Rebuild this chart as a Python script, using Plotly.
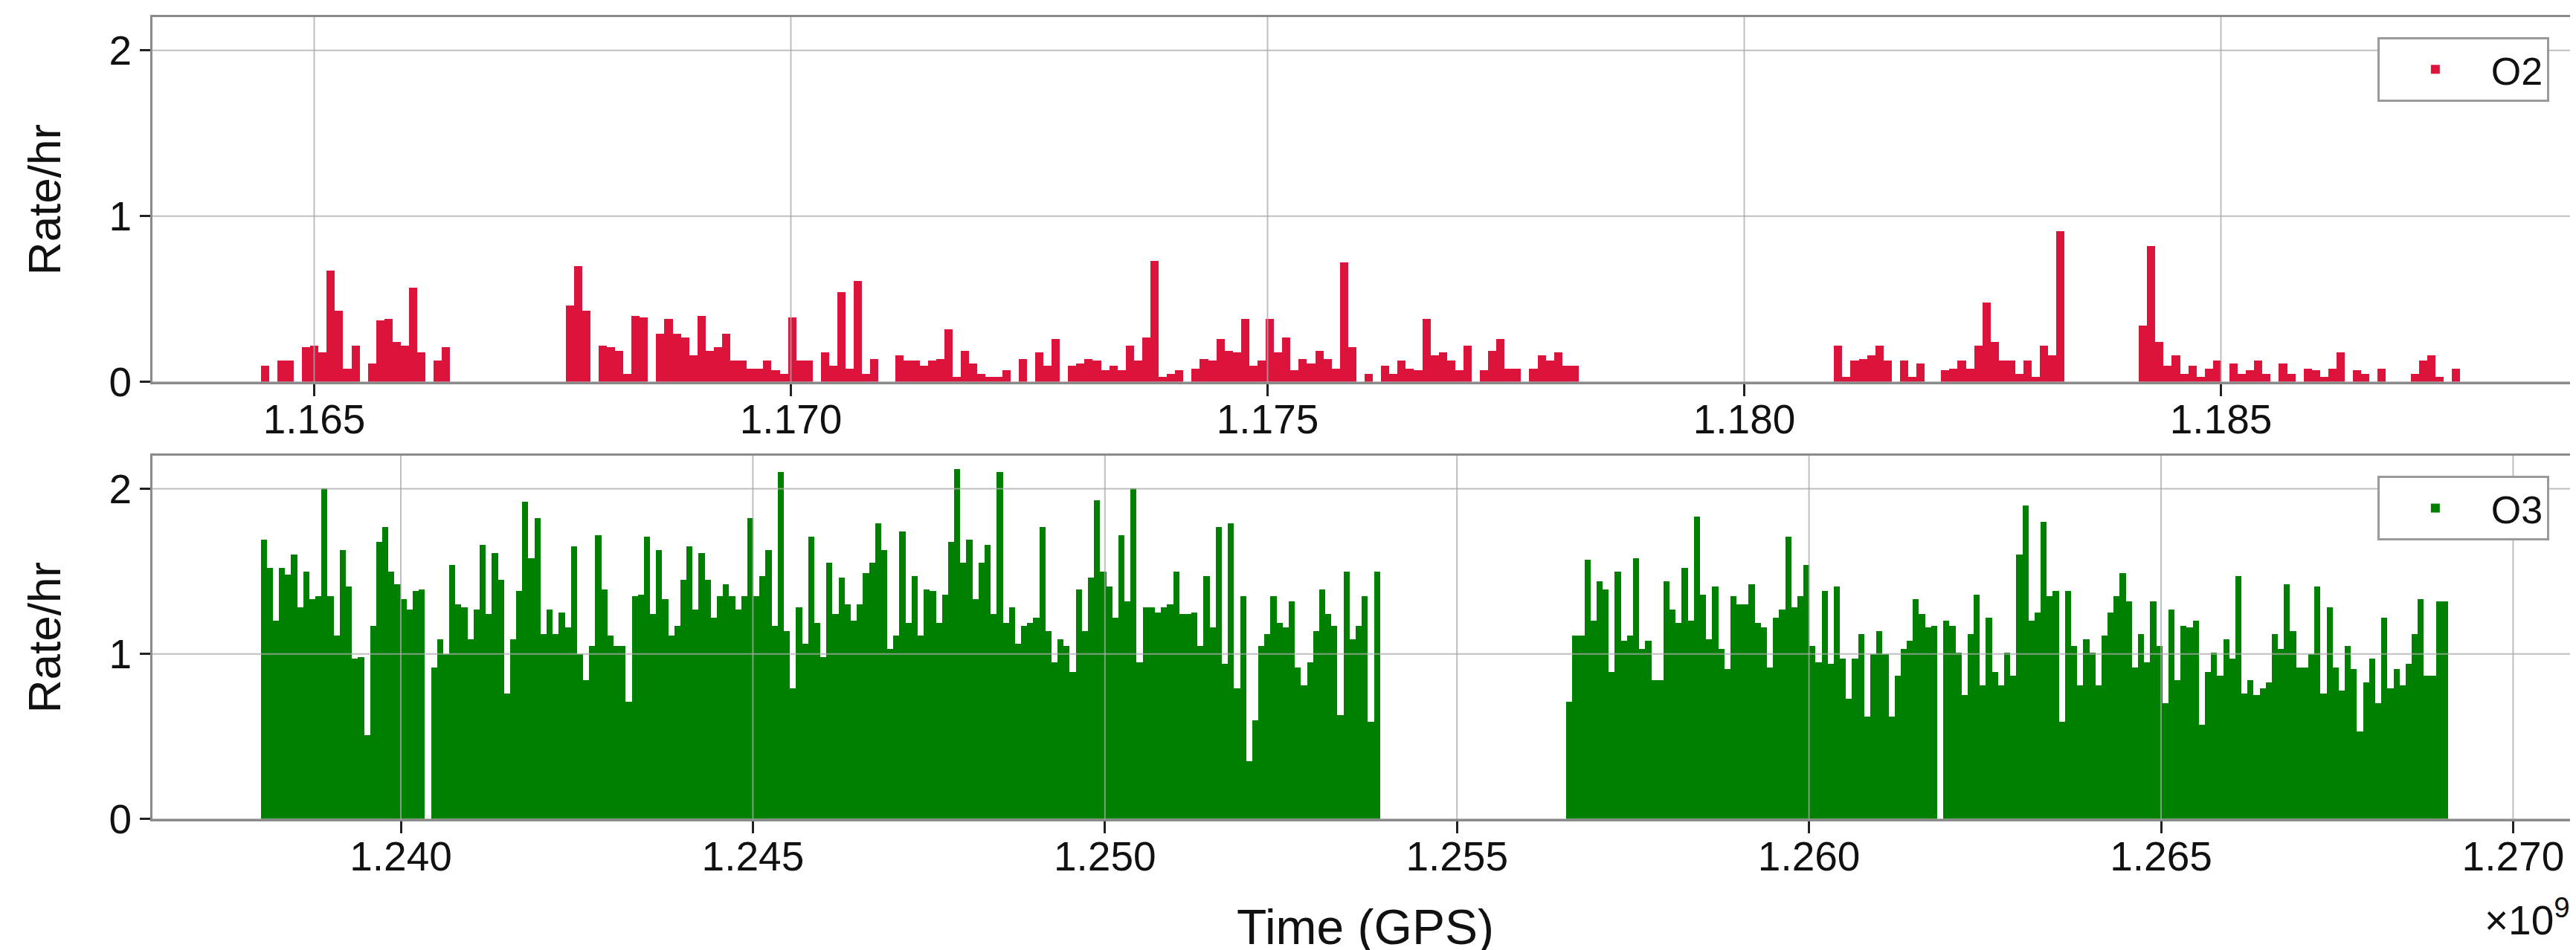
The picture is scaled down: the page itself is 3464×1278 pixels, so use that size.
import numpy as np
import plotly.graph_objects as go

# ---------------- data (daily rates) ----------------
BIN_SECONDS = 86400

o2_label = "O2"
o2_start_gps = 1164440000
o2_rate = [
    0.10, 0, 0.13, 0.13, 0, 0.21, 0.22, 0.18, 0.67, 0.43, 0.08, 0.22, 0, 0.11, 0.37, 0.38,
    0.24, 0.22, 0.57, 0.18, 0, 0.13, 0.21,
    0, 0, 0, 0, 0, 0, 0, 0, 0, 0, 0, 0, 0, 0,
    0.46, 0.70, 0.43, 0, 0.22, 0.21, 0.19, 0.05, 0.40, 0.39, 0, 0.29, 0.38, 0.29, 0.27, 0.16,
    0.40, 0.19, 0.21, 0.29, 0.13, 0.13, 0.08, 0.08,
    0.13, 0.07, 0.05, 0.39, 0.13, 0.13, 0, 0.18, 0.10, 0.54, 0.08, 0.61, 0.05, 0.14, 0, 0,
    0.16, 0.13, 0.13, 0.10, 0.13, 0.14, 0.32, 0.03, 0.19, 0.11, 0.05, 0.03, 0.03, 0.07,
    0, 0.14, 0, 0.18, 0.10, 0.26, 0, 0.10, 0.11, 0.14, 0.13, 0.07, 0.10, 0.07, 0.22, 0.13,
    0.27, 0.73, 0.03, 0.05, 0.07, 0, 0.08, 0.14, 0.13, 0.26, 0.19, 0.18, 0.38, 0.10,
    0.13, 0.38, 0.18, 0.27, 0.07, 0.14, 0.11, 0.19, 0.14, 0.08, 0.72, 0.21, 0, 0.05, 0, 0.10,
    0.05, 0.13, 0.08, 0.07, 0.38, 0.16, 0.18, 0.13, 0.07, 0.22, 0, 0.07, 0.19, 0.26, 0.08,
    0.08, 0, 0.08, 0.16, 0.13, 0.18, 0.10, 0.10,
    0, 0, 0, 0, 0, 0, 0, 0, 0, 0, 0, 0, 0, 0, 0, 0, 0, 0, 0, 0, 0, 0, 0, 0, 0, 0, 0, 0, 0, 0, 0,
    0.22, 0.03, 0.13, 0.14, 0.16, 0.22, 0.13, 0, 0.13, 0.03, 0.11, 0, 0, 0.07, 0.08, 0.13,
    0.08, 0.22, 0.48, 0.24, 0.13, 0.13, 0.05, 0.13, 0.03, 0.22, 0.16, 0.91,
    0, 0, 0, 0, 0, 0, 0, 0, 0,
    0.34, 0.82, 0.24, 0.10, 0.16, 0.05, 0.10, 0.03, 0.08, 0.13, 0, 0.11, 0.05, 0.07, 0.13,
    0.05, 0, 0.11, 0.05, 0, 0.08, 0.07, 0.03, 0.08, 0.18, 0, 0.07, 0.05, 0, 0.08, 0, 0, 0,
    0.05, 0.13, 0.16, 0.03, 0, 0.08,
]

o3_label = "O3"
o3a_start_gps = 1238009100
o3a_rate = [
    1.69, 1.52, 1.20, 1.52, 1.48, 1.60, 1.28, 1.50, 1.33, 1.35,
    2.00, 1.35, 1.11, 1.63, 1.41, 0.97, 0.98, 0.51, 1.17, 1.68,
    1.77, 1.50, 1.42, 1.33, 1.27, 1.38, 1.39, 0, 0.92, 1.09,
    1.00, 1.54, 1.30, 1.28, 1.09, 1.27, 1.66, 1.24, 1.61, 1.45,
    0.76, 1.09, 1.38, 1.92, 1.58, 1.82, 1.12, 1.27, 1.12, 1.25,
    1.16, 1.65, 1.00, 0.84, 1.05, 1.72, 1.39, 1.11, 1.05, 1.05,
    0.71, 1.35, 1.36, 1.71, 1.24, 1.63, 1.33, 1.11, 1.17, 1.45,
    1.65, 1.27, 1.61, 1.45, 1.22, 1.35, 1.42, 1.35, 1.27, 1.35,
    1.82, 1.35, 1.47, 1.63, 1.17, 2.10, 1.14, 0.79, 1.28, 1.06,
    1.71, 1.19, 0.98,
    1.55, 1.24, 1.46, 1.30, 1.20, 1.30, 1.49, 1.55, 1.79, 1.63,
    1.03, 1.11, 1.74, 1.19, 1.47, 1.11, 1.39, 1.38, 1.19, 1.36,
    1.68, 2.12, 1.55, 1.69, 1.33, 1.55, 1.66, 1.24, 2.10, 1.19,
    1.28, 1.06, 1.17, 1.19, 1.22, 1.77, 1.14, 0.95, 1.09, 1.05,
    0.89, 1.39, 1.14, 1.46, 1.93, 1.50, 1.41, 1.22, 1.72, 1.32,
    2.00, 0.95, 1.28, 1.28, 1.25, 1.28, 1.30, 1.50, 1.24, 1.24,
    1.25, 1.05, 1.47, 1.16, 1.77, 0.94, 1.79, 0.79, 1.35, 0.35,
    0.60, 1.05, 1.12, 1.35, 1.19, 1.16, 1.32, 0.92, 0.81, 0.95,
    1.14, 1.39, 1.24, 1.17, 0.63, 1.50, 1.09, 1.17, 1.35, 0.59,
    1.50,
]

o3b_start_gps = 1256550500
o3b_rate = [
    0.71, 1.11, 1.11, 1.57, 1.20, 1.44, 1.39, 0.89, 1.50, 1.08,
    1.11, 1.58, 1.03, 1.08, 0.84, 0.84, 1.44, 1.27, 1.19, 1.52,
    1.20, 1.83, 1.36, 1.09, 1.41, 1.03, 0.91, 1.35, 1.30, 1.30,
    1.42, 1.19, 1.16, 0.92, 1.22, 1.27, 1.71, 1.28, 1.35, 1.54,
    1.05, 0.95, 1.38, 0.94, 1.41, 0.97, 0.73, 0.97, 1.12, 0.62,
    1.00, 1.14, 1.00, 0.62, 0.87, 1.03, 1.08, 1.33, 1.24, 1.16,
    1.17, 0, 1.20, 1.17, 1.01, 0.75, 1.12, 1.36, 0.81, 1.22,
    0.89, 0.81, 1.01, 0.87, 1.60,
    1.90, 1.20, 1.25, 1.80, 1.35, 1.38, 0.59, 1.38, 1.05, 0.81,
    1.09, 1.01, 0.81, 1.11, 1.25, 1.35, 1.49, 1.32, 0.92, 1.12,
    0.95, 1.32, 1.05, 0.70, 1.27, 0.84, 1.17, 1.16, 1.20, 0.57,
    0.89, 1.01, 0.87, 1.09, 0.97, 1.47, 0.76, 0.84, 0.75, 0.79,
    0.83, 1.12, 1.03, 1.42, 1.14, 0.92, 0.92, 1.00, 1.41, 0.76,
    1.28, 0.92, 0.78, 1.05, 0.91, 0.53, 0.83, 0.97, 0.70, 1.22,
    0.79, 0.91, 0.81, 0.94, 1.12, 1.33, 0.87, 0.87, 1.32, 1.32,
]

o2_tickvals = [1.165e9, 1.170e9, 1.175e9, 1.180e9, 1.185e9]
o2_ticktext = ["1.165", "1.170", "1.175", "1.180", "1.185"]
o3_tickvals = [1.240e9, 1.245e9, 1.250e9, 1.255e9, 1.260e9, 1.265e9, 1.270e9]
o3_ticktext = ["1.240", "1.245", "1.250", "1.255", "1.260", "1.265", "1.270"]
y_tickvals = [0, 1, 2]
y_ticktext = ["0", "1", "2"]

o2_xrange = [1163303400, 1188748000]
o3_xrange = [1236472400, 1270925000]
y_range = [0, 2.2]

y_title = "Rate/hr"
x_title = "Time (GPS)"
offset_text = "×10<sup>9</sup>"

# ---------------- helpers ----------------
def bin_centers(start, n):
    return start + (np.arange(n) + 0.5) * BIN_SECONDS

RED = "#dc143c"
GREEN = "#008000"
FONT = "Liberation Sans, Arial, Helvetica, sans-serif"
SPINE = "#8a8a8a"
GRID = "rgba(170,170,170,0.75)"

o3_x = np.concatenate([bin_centers(o3a_start_gps, len(o3a_rate)),
                       bin_centers(o3b_start_gps, len(o3b_rate))])
o3_y = list(o3a_rate) + list(o3b_rate)

fig = go.Figure()
fig.add_trace(go.Bar(
    x=bin_centers(o2_start_gps, len(o2_rate)), y=o2_rate, width=BIN_SECONDS,
    marker=dict(color=RED, line=dict(width=0)), name=o2_label,
    xaxis="x", yaxis="y", legend="legend", showlegend=True,
))
fig.add_trace(go.Bar(
    x=o3_x, y=o3_y, width=BIN_SECONDS,
    marker=dict(color=GREEN, line=dict(width=0)), name=o3_label,
    xaxis="x2", yaxis="y2", legend="legend2", showlegend=True,
))

tickfont = dict(family=FONT, size=55, color="#111111")
titlefont = dict(family=FONT, size=62, color="#111111")

def xaxis_cfg(rng, tv, tt, anchor, title=None):
    d = dict(range=rng, tickmode="array", tickvals=tv, ticktext=tt,
             showgrid=False, zeroline=False, showline=True, linecolor=SPINE,
             linewidth=3, mirror=True, ticks="outside", ticklen=16, tickwidth=3,
             tickcolor="#222222", tickfont=tickfont, anchor=anchor,
             ticklabelstandoff=-16)
    if title:
        d["title"] = dict(text=title, font=dict(family=FONT, size=66, color="#111111"),
                          standoff=42)
    return d

def yaxis_cfg(domain, anchor):
    return dict(range=y_range, domain=domain, tickmode="array", tickvals=y_tickvals,
                ticktext=y_ticktext, showgrid=False, zeroline=False, showline=True,
                linecolor=SPINE, linewidth=3, mirror=True, ticks="outside",
                ticklen=14, tickwidth=3, tickcolor="#222222", tickfont=tickfont,
                anchor=anchor, title=dict(text=y_title, font=titlefont, standoff=45))

legend_common = dict(bgcolor="white", bordercolor="#9a9a9a", borderwidth=3,
                     font=dict(family=FONT, size=52, color="#111111"),
                     xanchor="right", yanchor="top", itemwidth=140,
                     x=0.988, visible=True)

fig.update_layout(
    width=3464, height=1278,
    margin=dict(l=197, r=5, t=15, b=184, autoexpand=False),
    paper_bgcolor="white", plot_bgcolor="white",
    barmode="overlay", bargap=0, showlegend=True,
    xaxis=xaxis_cfg(o2_xrange, o2_tickvals, o2_ticktext, "y"),
    yaxis=yaxis_cfg([0.545, 1.0], "x"),
    xaxis2=xaxis_cfg(o3_xrange, o3_tickvals, o3_ticktext, "y2", x_title),
    yaxis2=yaxis_cfg([0.0, 0.4532], "x2"),
    legend=dict(**legend_common, y=0.975),
    legend2=dict(**legend_common, y=0.428),
    font=dict(family=FONT),
)

# grid drawn above the bars, as in the reference
shapes = []
for xa, ya, tv in (("x", "y", o2_tickvals), ("x2", "y2", o3_tickvals)):
    for v in tv:
        shapes.append(dict(type="line", xref=xa, yref=f"{ya} domain", x0=v, x1=v,
                           y0=0, y1=1, line=dict(color=GRID, width=2), layer="above"))
    for v in y_tickvals:
        shapes.append(dict(type="line", xref=f"{xa} domain", yref=ya, x0=0, x1=1,
                           y0=v, y1=v, line=dict(color=GRID, width=2), layer="above"))
fig.update_layout(shapes=shapes)

fig.add_annotation(text=offset_text, xref="paper", yref="paper", x=0.9973, y=-0.1223,
                   xanchor="right", yanchor="middle", showarrow=False,
                   font=dict(family=FONT, size=55, color="#111111"))

fig.write_html("out.html")
